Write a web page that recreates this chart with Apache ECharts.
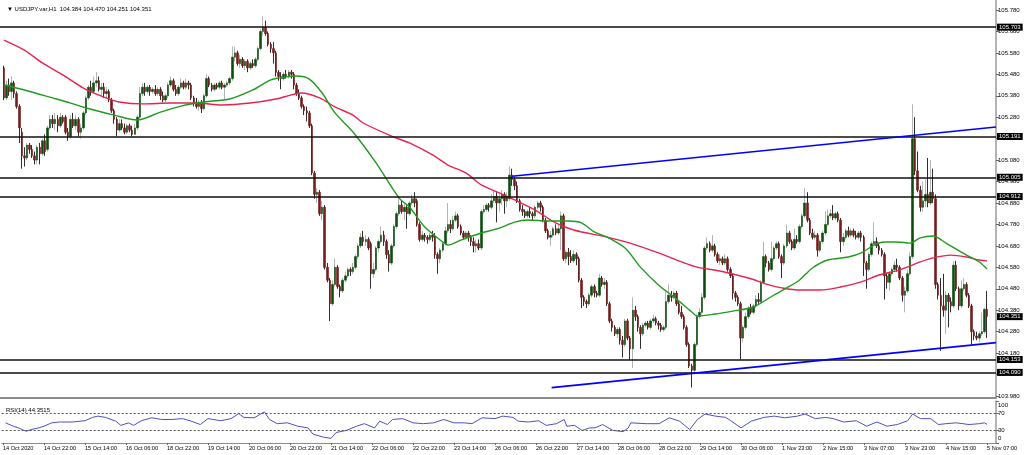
<!DOCTYPE html>
<html><head><meta charset="utf-8">
<script src="https://cdn.jsdelivr.net/npm/echarts@6/dist/echarts.min.js"></script>
<style>html,body{margin:0;padding:0;background:#fff}#c{width:1024px;height:455px}</style>
</head><body><div id="c"></div>
<script>
const symbolName = 'USDJPY.var,H1';
const opens = [
105.51,105.37,105.43,105.40,105.44,105.39,105.33,105.21,105.10,105.09,
105.15,105.13,105.10,105.08,105.14,105.11,105.17,105.13,105.23,105.27,
105.25,105.27,105.24,105.28,105.28,105.21,105.19,105.27,105.24,105.27,
105.21,105.23,105.30,105.37,105.42,105.40,105.44,105.45,105.41,105.42,
105.39,105.40,105.36,105.31,105.27,105.22,105.25,105.23,105.21,105.24,
105.22,105.20,105.23,105.28,105.39,105.42,105.40,105.42,105.40,105.41,
105.39,105.41,105.38,105.36,105.38,105.43,105.45,105.41,105.39,105.42,
105.44,105.42,105.44,105.43,105.37,105.35,105.33,105.35,105.32,105.38,
105.46,105.43,105.41,105.43,105.42,105.44,105.42,105.43,105.44,105.46,
105.56,105.58,105.53,105.55,105.52,105.54,105.51,105.53,105.52,105.55,
105.60,105.68,105.70,105.67,105.62,105.60,105.58,105.49,105.47,105.46,
105.48,105.47,105.49,105.48,105.43,105.39,105.37,105.33,105.31,105.30,
105.24,105.02,104.92,104.93,104.83,104.86,104.58,104.52,104.41,104.50,
104.58,104.49,104.47,104.52,104.54,104.57,104.56,104.58,104.63,104.68,
104.72,104.70,104.71,104.69,104.55,104.57,104.67,104.70,104.73,104.70,
104.64,104.60,104.68,104.77,104.83,104.87,104.84,104.86,104.83,104.88,
104.90,104.89,104.78,104.71,104.73,104.72,104.71,104.73,104.72,104.64,
104.62,104.66,104.69,104.75,104.78,104.76,104.80,104.82,104.77,104.74,
104.72,104.74,104.72,104.70,104.68,104.69,104.67,104.84,104.85,104.87,
104.86,104.89,104.91,104.88,104.90,104.92,104.89,104.90,105.01,104.99,
104.96,104.89,104.85,104.84,104.82,104.84,104.83,104.82,104.86,104.88,
104.86,104.80,104.75,104.72,104.73,104.76,104.74,104.76,104.82,104.62,
104.65,104.63,104.61,104.64,104.62,104.52,104.44,104.42,104.41,104.45,
104.49,104.46,104.45,104.53,104.50,104.51,104.41,104.33,104.30,104.27,
104.29,104.24,104.22,104.33,104.25,104.20,104.38,104.35,104.30,104.27,
104.31,104.32,104.30,104.33,104.34,104.32,104.31,104.29,104.30,104.42,
104.45,104.44,104.46,104.41,104.37,104.35,104.30,104.22,104.12,104.10,
104.22,104.35,104.37,104.44,104.67,104.69,104.66,104.68,104.64,104.61,
104.62,104.60,104.62,104.57,104.54,104.46,104.44,104.41,104.25,104.30,
104.35,104.39,104.37,104.40,104.43,104.42,104.51,104.63,104.60,104.57,
104.62,104.67,104.69,104.63,104.60,104.68,104.74,104.70,104.67,104.71,
104.70,104.77,104.82,104.88,104.80,104.74,104.72,104.73,104.66,104.70,
104.74,104.78,104.82,104.83,104.81,104.83,104.80,104.70,104.72,104.75,
104.73,104.75,104.73,104.72,104.74,104.72,104.60,104.57,104.64,104.69,
104.70,104.68,104.66,104.64,104.54,104.51,104.55,104.57,104.59,104.58,
104.53,104.45,104.47,104.55,104.63,105.18,105.03,104.94,104.86,104.89,
104.92,104.88,104.93,104.90,104.50,104.45,104.40,104.38,104.45,104.42,
104.40,104.59,104.48,104.40,104.48,104.50,104.45,104.40,104.28,104.26,
104.25,104.27,104.28,104.384];
const highs = [
105.52,105.45,105.46,105.47,105.45,105.40,105.34,105.23,105.14,105.16,
105.16,105.15,105.12,105.15,105.16,105.18,105.20,105.24,105.29,105.29,
105.30,105.29,105.30,105.29,105.29,105.23,105.29,105.30,105.29,105.28,
105.25,105.31,105.38,105.43,105.45,105.47,105.49,105.47,105.44,105.44,
105.42,105.41,105.37,105.32,105.28,105.27,105.27,105.25,105.25,105.25,
105.24,105.25,105.29,105.42,105.44,105.44,105.43,105.43,105.42,105.43,
105.42,105.42,105.40,105.39,105.44,105.47,105.46,105.43,105.43,105.46,
105.45,105.46,105.45,105.44,105.38,105.37,105.36,105.36,105.39,105.48,
105.47,105.44,105.44,105.44,105.45,105.45,105.44,105.45,105.47,105.61,
105.61,105.59,105.57,105.56,105.55,105.55,105.54,105.55,105.56,105.61,
105.69,105.75,105.73,105.68,105.63,105.63,105.59,105.50,105.49,105.49,
105.50,105.50,105.50,105.49,105.44,105.41,105.38,105.34,105.33,105.31,
105.25,105.03,104.95,104.94,104.89,104.87,104.60,104.53,104.52,104.62,
104.59,104.50,104.53,104.56,104.58,104.58,104.60,104.64,104.69,104.74,
104.75,104.73,104.72,104.70,104.60,104.68,104.71,104.77,104.75,104.71,
104.66,104.69,104.78,104.84,104.91,104.89,104.88,104.87,104.89,104.92,
104.93,104.90,104.79,104.75,104.74,104.73,104.74,104.75,104.74,104.65,
104.67,104.70,104.77,104.88,104.80,104.82,104.84,104.83,104.78,104.75,
104.75,104.75,104.73,104.72,104.71,104.71,104.85,104.87,104.88,104.88,
104.92,104.94,104.93,104.92,104.94,104.93,104.93,105.05,105.04,105.00,
104.98,104.90,104.87,104.85,104.85,104.86,104.84,104.87,104.89,104.89,
104.87,104.81,104.76,104.75,104.77,104.78,104.78,104.84,104.83,104.66,
104.67,104.66,104.66,104.65,104.63,104.53,104.45,104.43,104.46,104.50,
104.50,104.47,104.55,104.54,104.53,104.52,104.42,104.34,104.31,104.30,
104.30,104.26,104.34,104.34,104.26,104.44,104.40,104.36,104.31,104.32,
104.33,104.33,104.34,104.36,104.35,104.33,104.32,104.31,104.47,104.50,
104.47,104.47,104.47,104.42,104.40,104.36,104.31,104.23,104.13,104.23,
104.36,104.39,104.46,104.68,104.72,104.70,104.73,104.69,104.65,104.64,
104.63,104.64,104.63,104.58,104.55,104.47,104.45,104.42,104.31,104.37,
104.40,104.41,104.41,104.45,104.46,104.52,104.70,104.64,104.61,104.70,
104.68,104.70,104.70,104.64,104.69,104.78,104.75,104.71,104.76,104.73,
104.78,104.83,104.95,104.93,104.81,104.76,104.75,104.74,104.71,104.75,
104.84,104.85,104.85,104.87,104.84,104.84,104.81,104.74,104.76,104.77,
104.76,104.76,104.75,104.75,104.75,104.73,104.61,104.65,104.70,104.79,
104.72,104.69,104.67,104.65,104.55,104.56,104.58,104.61,104.62,104.59,
104.54,104.49,104.57,104.65,105.34,105.28,105.12,104.96,104.98,104.99,
105.09,105.08,105.04,104.92,104.51,104.53,104.55,104.47,104.46,104.44,
104.61,104.61,104.49,104.52,104.53,104.51,104.46,104.41,104.29,104.28,
104.28,104.37,104.39,104.470];
const lows = [
105.36,105.36,105.38,105.36,105.37,105.32,105.16,105.04,105.05,105.08,
105.11,105.09,105.06,105.06,105.06,105.10,105.10,105.12,105.22,105.23,
105.22,105.21,105.23,105.25,105.20,105.17,105.18,105.23,105.22,105.19,
105.18,105.22,105.29,105.36,105.38,105.39,105.42,105.40,105.38,105.37,
105.37,105.35,105.30,105.25,105.19,105.21,105.22,105.20,105.20,105.21,
105.19,105.20,105.22,105.27,105.38,105.38,105.39,105.38,105.39,105.38,
105.38,105.36,105.35,105.35,105.37,105.42,105.40,105.38,105.38,105.41,
105.41,105.41,105.41,105.36,105.33,105.32,105.31,105.30,105.31,105.37,
105.42,105.40,105.40,105.41,105.41,105.41,105.36,105.42,105.43,105.45,
105.54,105.52,105.51,105.51,105.50,105.49,105.50,105.51,105.51,105.54,
105.59,105.66,105.66,105.61,105.58,105.53,105.47,105.45,105.41,105.45,
105.46,105.46,105.46,105.41,105.38,105.36,105.32,105.29,105.26,105.23,
105.01,104.90,104.88,104.82,104.80,104.57,104.51,104.33,104.40,104.49,
104.48,104.44,104.46,104.51,104.53,104.54,104.55,104.57,104.62,104.67,
104.68,104.68,104.66,104.48,104.53,104.56,104.65,104.69,104.68,104.62,
104.56,104.59,104.67,104.76,104.82,104.83,104.80,104.76,104.82,104.87,
104.86,104.77,104.70,104.70,104.70,104.69,104.70,104.70,104.62,104.55,
104.60,104.65,104.68,104.74,104.74,104.75,104.79,104.76,104.73,104.71,
104.71,104.70,104.68,104.65,104.65,104.66,104.66,104.83,104.84,104.84,
104.85,104.88,104.79,104.84,104.87,104.83,104.86,104.89,104.96,104.94,
104.88,104.84,104.82,104.81,104.81,104.81,104.80,104.81,104.85,104.84,
104.79,104.74,104.71,104.68,104.72,104.73,104.73,104.66,104.61,104.60,
104.59,104.60,104.60,104.59,104.51,104.39,104.40,104.39,104.40,104.44,
104.44,104.44,104.44,104.49,104.48,104.40,104.32,104.28,104.26,104.25,
104.22,104.16,104.21,104.24,104.15,104.11,104.33,104.28,104.20,104.26,
104.30,104.29,104.29,104.32,104.31,104.29,104.28,104.28,104.29,104.41,
104.42,104.43,104.40,104.36,104.34,104.29,104.21,104.11,104.02,104.08,
104.21,104.34,104.36,104.43,104.66,104.65,104.65,104.63,104.60,104.59,
104.59,104.59,104.56,104.53,104.43,104.42,104.40,104.15,104.23,104.29,
104.34,104.36,104.36,104.39,104.41,104.41,104.50,104.58,104.56,104.56,
104.61,104.66,104.62,104.53,104.59,104.67,104.69,104.66,104.66,104.69,
104.69,104.76,104.81,104.79,104.73,104.71,104.71,104.63,104.65,104.69,
104.73,104.77,104.81,104.80,104.80,104.79,104.65,104.68,104.71,104.72,
104.72,104.72,104.71,104.71,104.70,104.54,104.48,104.56,104.63,104.68,
104.67,104.64,104.63,104.43,104.48,104.47,104.54,104.56,104.56,104.52,
104.42,104.37,104.46,104.54,104.62,105.01,104.93,104.84,104.84,104.86,
104.86,104.87,104.88,104.48,104.43,104.19,104.35,104.27,104.30,104.37,
104.39,104.47,104.38,104.39,104.47,104.44,104.39,104.22,104.24,104.24,
104.23,104.26,104.27,104.251];
const closes = [
105.37,105.43,105.40,105.44,105.39,105.33,105.23,105.10,105.09,105.15,
105.13,105.10,105.08,105.14,105.11,105.17,105.12,105.23,105.27,105.25,
105.27,105.24,105.28,105.26,105.21,105.19,105.27,105.24,105.27,105.21,
105.23,105.30,105.37,105.42,105.40,105.44,105.45,105.41,105.42,105.39,
105.40,105.36,105.31,105.27,105.22,105.25,105.23,105.21,105.24,105.22,
105.20,105.23,105.28,105.39,105.42,105.40,105.42,105.40,105.41,105.39,
105.41,105.38,105.36,105.38,105.43,105.45,105.41,105.39,105.42,105.44,
105.42,105.44,105.43,105.37,105.35,105.33,105.35,105.32,105.38,105.46,
105.43,105.41,105.43,105.42,105.44,105.42,105.43,105.44,105.46,105.56,
105.58,105.53,105.55,105.52,105.54,105.51,105.53,105.52,105.55,105.60,
105.68,105.70,105.67,105.62,105.60,105.58,105.49,105.47,105.46,105.48,
105.47,105.49,105.48,105.43,105.39,105.37,105.33,105.31,105.30,105.24,
105.02,104.92,104.93,104.83,104.86,104.58,104.52,104.41,104.50,104.58,
104.49,104.47,104.52,104.54,104.57,104.56,104.58,104.63,104.68,104.72,
104.70,104.71,104.67,104.55,104.57,104.67,104.70,104.73,104.70,104.64,
104.60,104.68,104.77,104.83,104.87,104.84,104.86,104.83,104.88,104.90,
104.88,104.78,104.71,104.73,104.72,104.71,104.73,104.72,104.64,104.62,
104.66,104.69,104.75,104.78,104.76,104.80,104.82,104.77,104.74,104.72,
104.74,104.72,104.70,104.68,104.69,104.67,104.84,104.85,104.87,104.86,
104.89,104.91,104.88,104.90,104.92,104.89,104.91,105.01,104.99,104.96,
104.89,104.85,104.84,104.82,104.84,104.83,104.82,104.86,104.88,104.86,
104.80,104.75,104.72,104.73,104.76,104.74,104.76,104.82,104.62,104.65,
104.63,104.61,104.64,104.62,104.52,104.44,104.42,104.41,104.45,104.49,
104.46,104.45,104.53,104.50,104.51,104.41,104.33,104.30,104.27,104.29,
104.24,104.22,104.33,104.25,104.20,104.38,104.35,104.30,104.27,104.31,
104.32,104.30,104.33,104.34,104.32,104.31,104.29,104.30,104.42,104.45,
104.44,104.46,104.41,104.37,104.35,104.30,104.22,104.12,104.10,104.22,
104.35,104.37,104.44,104.67,104.69,104.66,104.68,104.64,104.61,104.62,
104.60,104.62,104.57,104.54,104.46,104.44,104.41,104.25,104.30,104.35,
104.39,104.37,104.40,104.43,104.42,104.51,104.63,104.60,104.57,104.62,
104.67,104.69,104.63,104.60,104.68,104.74,104.70,104.67,104.71,104.70,
104.77,104.82,104.88,104.80,104.74,104.72,104.73,104.66,104.70,104.74,
104.78,104.82,104.83,104.81,104.83,104.80,104.70,104.72,104.75,104.73,
104.75,104.73,104.72,104.74,104.72,104.60,104.57,104.64,104.69,104.70,
104.68,104.66,104.64,104.54,104.51,104.55,104.57,104.59,104.58,104.53,
104.45,104.47,104.55,104.63,105.18,105.03,104.94,104.86,104.89,104.92,
104.88,104.93,104.90,104.50,104.45,104.40,104.38,104.45,104.42,104.40,
104.59,104.48,104.40,104.48,104.50,104.45,104.40,104.28,104.26,104.25,
104.27,104.28,104.384,104.351];

// moving averages: [bar, price]
const maGreen = [[0,105.430],[8,105.407],[19,105.370],[26,105.346],[32,105.323],[43,105.290],[52,105.267],[61,105.304],[69,105.332],[78,105.351],[88,105.365],[97,105.407],[104,105.454],[110,105.468],[114,105.472],[119,105.458],[124,105.393],[129,105.300],[136,105.211],[145,105.067],[154,104.903],[158,104.861],[164,104.768],[171,104.698],[173,104.684],[178,104.707],[186,104.740],[193,104.763],[199,104.791],[204,104.801],[212,104.796],[220,104.796],[225,104.787],[230,104.745],[235,104.721],[242,104.670],[248,104.581],[255,104.498],[261,104.442],[268,104.372],[270,104.353],[277,104.362],[284,104.376],[292,104.395],[300,104.451],[305,104.484],[310,104.521],[315,104.577],[321,104.614],[329,104.628],[334,104.647],[339,104.684],[343,104.698],[348,104.698],[353,104.693],[357,104.717],[362,104.726],[367,104.693],[375,104.637],[380,104.605],[383,104.572]];
const maRed = [[0,105.640],[8,105.593],[15,105.533],[23,105.477],[31,105.416],[39,105.374],[45,105.351],[54,105.342],[65,105.346],[75,105.346],[85,105.337],[96,105.346],[106,105.365],[112,105.384],[116,105.393],[123,105.370],[129,105.328],[136,105.290],[140,105.253],[151,105.192],[158,105.160],[167,105.104],[173,105.057],[180,105.020],[186,104.964],[193,104.927],[199,104.894],[207,104.847],[215,104.787],[222,104.754],[235,104.721],[244,104.693],[255,104.647],[264,104.605],[270,104.581],[279,104.563],[290,104.530],[298,104.498],[303,104.484],[310,104.474],[318,104.474],[326,104.488],[334,104.512],[341,104.544],[349,104.568],[357,104.605],[362,104.624],[369,104.637],[375,104.628],[380,104.614],[383,104.610]];
const rsiValues = [[0,48],[3,40],[5,36],[8,28],[10,32],[13,36],[15,40],[18,48],[21,50],[26,50],[31,53],[34,61],[36,64],[39,61],[43,52],[45,42],[48,48],[50,42],[53,53],[57,60],[61,56],[65,56],[69,58],[72,53],[76,44],[79,58],[84,53],[88,58],[91,70],[93,61],[97,60],[101,74],[103,56],[106,46],[110,48],[114,40],[118,36],[120,21],[124,14],[127,11],[129,25],[133,30],[137,40],[140,46],[144,36],[146,52],[149,44],[151,56],[155,58],[159,48],[163,46],[167,48],[171,56],[175,48],[179,48],[182,46],[186,60],[191,58],[194,64],[198,61],[200,52],[204,50],[208,53],[211,42],[215,46],[218,56],[219,40],[222,42],[225,30],[228,36],[230,36],[233,44],[237,30],[241,27],[243,36],[244,48],[250,46],[255,46],[259,60],[263,52],[267,32],[270,56],[273,69],[277,64],[281,61],[283,53],[287,36],[291,52],[296,61],[300,64],[304,60],[309,64],[312,69],[316,58],[320,61],[323,58],[327,50],[332,53],[336,40],[340,50],[344,40],[348,44],[352,53],[354,69],[357,58],[361,58],[364,44],[367,46],[371,48],[376,44],[380,46],[382,48],[383,44.3515]];
const rsiLast = 44.3515;
const trendUpper = [[198,105.005],[386.5,105.234]];
const trendLower = [[213.4,104.019],[386.5,104.229]];
const levelLines = [105.703,105.191,105.005,104.912,104.153,104.090];
const priceTicks = [103.98,104.08,104.18,104.28,104.38,104.48,104.58,104.68,104.78,104.88,104.98,105.08,105.18,105.28,105.38,105.48,105.58,105.68,105.78];
const rsiTicks = [0,30,70,100];
const rsiLevels = [70,30];
const timeLabels = ['14 Oct 2020','14 Oct 22:00','15 Oct 14:00','16 Oct 06:00','18 Oct 22:00','19 Oct 14:00','20 Oct 06:00','20 Oct 22:00','21 Oct 14:00','22 Oct 06:00','22 Oct 22:00','23 Oct 14:00','26 Oct 06:00','26 Oct 22:00','27 Oct 14:00','28 Oct 06:00','28 Oct 22:00','29 Oct 14:00','30 Oct 06:00','1 Nov 23:00','2 Nov 15:00','3 Nov 07:00','3 Nov 23:00','4 Nov 15:00','5 Nov 07:00'];
const labelBars = [-1,15,31,47,63,79,95,111,127,143,159,175,191,207,223,239,255,271,287,303,319,335,351,367,383];

const N = opens.length;
const CATS = N + 4;
const cats = Array.from({length: CATS}, (_, i) => String(i));
const labelAt = {};
labelBars.forEach((b, k) => { labelAt[b + 1] = timeLabels[k]; });
const wickData = opens.map((o, i) => [i + 1, o, closes[i], lows[i], highs[i]]);
const bodyData = opens.map((o, i) => [i + 1, o, closes[i], Math.min(o, closes[i]), Math.max(o, closes[i])]);
const FONT = 'Liberation Sans, Arial, sans-serif';
const GL = -3.5, GW = 2.576 * CATS;
const VMIN = -1.5, VMAX = CATS - 1.5;
const last = N - 1;
const titleText = '\u25BC ' + symbolName + '  ' + [opens[last], highs[last], lows[last], closes[last]].map(v => v.toFixed(3)).join(' ');
const boxLabel = {show: true, position: 'end', distance: 1, formatter: '{b}', color: '#fff', backgroundColor: '#000', padding: [1, 2, 0, 2], fontSize: 6, fontFamily: FONT};

const chart = echarts.init(document.getElementById('c'));
chart.setOption({
  animation: false,
  backgroundColor: '#fff',
  title: [
    {text: titleText, left: 2, top: 1, textStyle: {fontSize: 6, fontWeight: 'normal', color: '#000', fontFamily: FONT}},
    {text: 'RSI(14) ' + rsiLast.toFixed(4), left: 1, top: 402, textStyle: {fontSize: 6, fontWeight: 'normal', color: '#000', fontFamily: FONT}}
  ],
  grid: [
    {left: GL, width: GW, top: 0, height: 398},
    {left: GL, width: GW, top: 401, height: 42}
  ],
  xAxis: [
    {type: 'category', gridIndex: 0, data: cats, boundaryGap: true,
     axisLine: {show: true, onZero: false, lineStyle: {color: '#8c8c8c', width: 2}}, axisTick: {show: false}, axisLabel: {show: false}, splitLine: {show: false}},
    {type: 'value', gridIndex: 0, min: VMIN, max: VMAX, show: false, axisLine: {onZero: false}},
    {type: 'category', gridIndex: 1, data: cats, boundaryGap: true,
     axisLine: {show: true, onZero: false, lineStyle: {color: '#8c8c8c', width: 1}},
     axisTick: {show: true, alignWithLabel: true, length: 2, interval: (i) => labelAt[i] !== undefined, lineStyle: {color: '#666'}},
     axisLabel: {show: true, interval: (i) => labelAt[i] !== undefined, formatter: (v, i) => labelAt[i] || '', align: 'left', margin: 2, fontSize: 5.6, color: '#000', fontFamily: FONT},
     splitLine: {show: false}},
    {type: 'value', gridIndex: 1, min: VMIN, max: VMAX, show: false, axisLine: {onZero: false}}
  ],
  yAxis: [
    {type: 'value', gridIndex: 0, position: 'right', min: 103.9706, max: 105.8266,
     axisLine: {show: true, onZero: false, lineStyle: {color: '#9a9a9a', width: 1.5}},
     axisTick: {show: true, customValues: priceTicks, length: 3, lineStyle: {color: '#666'}},
     axisLabel: {show: true, customValues: priceTicks, formatter: v => v.toFixed(3), margin: 2, fontSize: 6, color: '#000', fontFamily: FONT},
     splitLine: {show: false}},
    {type: 'value', gridIndex: 1, position: 'right', min: 0, max: 100,
     axisLine: {show: true, onZero: false, lineStyle: {color: '#9a9a9a', width: 1.5}},
     axisTick: {show: true, customValues: rsiTicks, length: 3, lineStyle: {color: '#666'}},
     axisLabel: {show: true, customValues: rsiTicks, margin: 2, fontSize: 6, color: '#000', fontFamily: FONT,
       formatter: v => v === 100 ? '{t|100}' : (v === 0 ? '{b|0}' : String(v)),
       rich: {t: {fontSize: 6, fontFamily: FONT, padding: [8, 0, 0, 0]}, b: {fontSize: 6, fontFamily: FONT, padding: [0, 0, 9, 0]}}},
     splitLine: {show: false}}
  ],
  series: [
    {type: 'candlestick', xAxisIndex: 0, yAxisIndex: 0, data: wickData, barWidth: 1,
     dimensions: ['x', 'open', 'close', 'lowest', 'highest'], encode: {x: 'x', y: ['open', 'close', 'lowest', 'highest']},
     itemStyle: {color: '#b4b4b4', color0: '#2e2e2e', borderColor: '#b4b4b4', borderColor0: '#2e2e2e', borderWidth: 1}, z: 2},
    {type: 'candlestick', xAxisIndex: 0, yAxisIndex: 0, data: bodyData, barWidth: 2,
     dimensions: ['x', 'open', 'close', 'lowest', 'highest'], encode: {x: 'x', y: ['open', 'close', 'lowest', 'highest']},
     itemStyle: {color: '#0c4d0c', color0: '#761c1c', borderColor: '#0c4d0c', borderColor0: '#761c1c', borderWidth: 0.6}, z: 3},
    {type: 'line', xAxisIndex: 1, yAxisIndex: 0, data: maRed, smooth: 0.3, symbol: 'none', lineStyle: {color: '#e8234f', width: 1.4}, z: 4,
     markLine: {silent: true, symbol: ['none', 'none'], data: levelLines.map(v => ({yAxis: v, name: v.toFixed(3)})), lineStyle: {color: '#111', width: 1.5, type: 'solid'}, label: boxLabel}},
    {type: 'line', xAxisIndex: 1, yAxisIndex: 0, data: maGreen, smooth: 0.3, symbol: 'none', lineStyle: {color: '#1f9a1f', width: 1.4}, z: 4,
     markLine: {silent: true, symbol: ['none', 'none'], data: [{yAxis: closes[last], name: closes[last].toFixed(3)}], lineStyle: {color: 'rgba(0,0,0,0)', width: 1}, label: boxLabel}},
    {type: 'line', xAxisIndex: 1, yAxisIndex: 0, data: trendUpper, symbol: 'none', lineStyle: {color: '#0000ff', width: 1.6}, z: 5},
    {type: 'line', xAxisIndex: 1, yAxisIndex: 0, data: trendLower, symbol: 'none', lineStyle: {color: '#0000ff', width: 1.6}, z: 5},
    {type: 'line', xAxisIndex: 3, yAxisIndex: 1, data: rsiValues, symbol: 'none', lineStyle: {color: '#4f4fc6', width: 1}, z: 4,
     markLine: {silent: true, symbol: ['none', 'none'], data: rsiLevels.map(v => ({yAxis: v})), lineStyle: {color: '#555', width: 1, type: [2, 2]}, label: {show: false}}}
  ]
});
</script></body></html>
